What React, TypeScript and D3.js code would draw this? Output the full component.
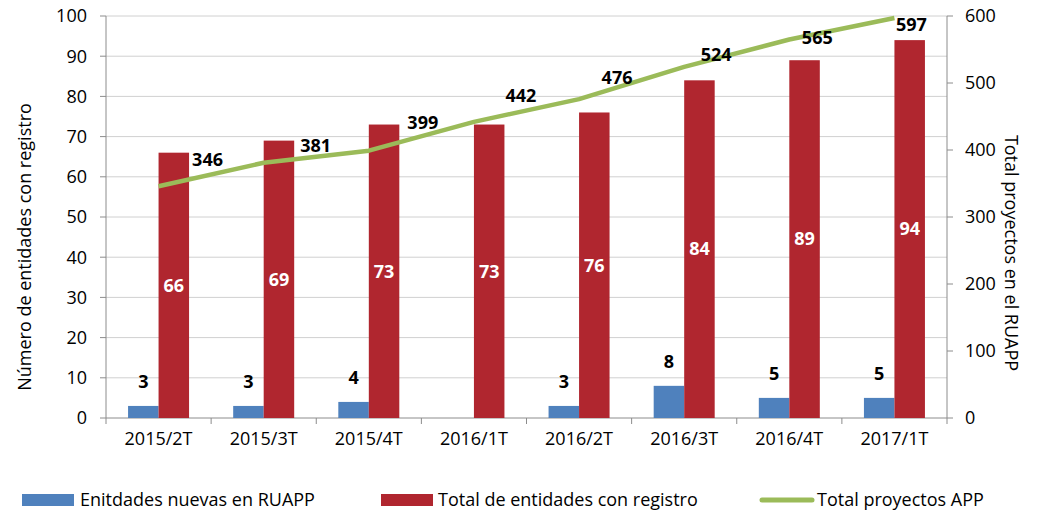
import React from "react";
import * as d3 from "d3";

// data
const periods = ["2015/2T", "2015/3T", "2015/4T", "2016/1T", "2016/2T", "2016/3T", "2016/4T", "2017/1T"];
const nuevas = [3, 3, 4, 0, 3, 8, 5, 5];
const totalEntidades = [66, 69, 73, 73, 76, 84, 89, 94];
const totalProyectos = [346, 381, 399, 442, 476, 524, 565, 597];
const leftTicks = [0, 10, 20, 30, 40, 50, 60, 70, 80, 90, 100];
const rightTicks = [0, 100, 200, 300, 400, 500, 600];

// manual nudges for the line's value labels (as placed in the original)
const lineLabelOffsets: [number, number][] = [
  [49, -26], [52, -17], [54, -28], [47, -26], [38, -21], [32, -12], [28, -2], [17, 7],
];

const W = 1039;
const H = 512;
const margin = { left: 106, right: 92, top: 16, bottom: 94 };
const FONT = "'Open Sans', sans-serif";
const FS = 18;
const BLUE = "#4F81BD";
const RED = "#B0262F";
const GREEN = "#9BBB59";

export default function App() {
  const x0 = margin.left;
  const x1 = W - margin.right;
  const yTop = margin.top;
  const yBot = H - margin.bottom;

  const x = d3.scaleBand<string>().domain(periods).range([x0, x1]);
  const yL = d3.scaleLinear().domain([0, 100]).range([yBot, yTop]);
  const yR = d3.scaleLinear().domain([0, 600]).range([yBot, yTop]);
  const barW = 30.5;

  const line = d3
    .line<number>()
    .x((_, i) => (x(periods[i]) as number) + x.bandwidth() / 2)
    .y((d) => yR(d));

  return (
    <svg width={W} height={H} style={{ position: "absolute", left: 0, top: 0, fontFamily: FONT }}>
      <rect width={W} height={H} fill="#fff" />
      {/* gridlines */}
      {leftTicks.slice(1).map((t) => (
        <line key={t} x1={x0} x2={x1} y1={yL(t)} y2={yL(t)} stroke="#D0D0D0" strokeWidth={1} />
      ))}
      {/* left axis */}
      <line x1={x0} x2={x0} y1={yTop} y2={yBot + 6} stroke="#8C8C8C" />
      {leftTicks.map((t) => (
        <g key={t}>
          <line x1={x0 - 6} x2={x0} y1={yL(t)} y2={yL(t)} stroke="#8C8C8C" />
          <text x={x0 - 19} y={yL(t)} dy="0.35em" textAnchor="end" fontSize={FS}>
            {t}
          </text>
        </g>
      ))}
      {/* right axis */}
      <line x1={x1} x2={x1} y1={yTop} y2={yBot} stroke="#8C8C8C" />
      {rightTicks.map((t) => (
        <g key={t}>
          <line x1={x1} x2={x1 + 6} y1={yR(t)} y2={yR(t)} stroke="#8C8C8C" />
          <text x={x1 + 18} y={yR(t)} dy="0.35em" textAnchor="start" fontSize={FS}>
            {t}
          </text>
        </g>
      ))}
      {/* x axis */}
      <line x1={x0} x2={x1} y1={yBot} y2={yBot} stroke="#8C8C8C" />
      {periods.map((p) => (
        <g key={p}>
          <line
            x1={(x(p) as number) + x.bandwidth()}
            x2={(x(p) as number) + x.bandwidth()}
            y1={yBot}
            y2={yBot + 6}
            stroke="#8C8C8C"
          />
          <text x={(x(p) as number) + x.bandwidth() / 2} y={yBot + 27} textAnchor="middle" fontSize={FS}>
            {p}
          </text>
        </g>
      ))}
      {/* bars */}
      {periods.map((p, i) => {
        const cx = (x(p) as number) + x.bandwidth() / 2;
        return (
          <g key={p}>
            {nuevas[i] > 0 && (
              <>
                <rect x={cx - barW} y={yL(nuevas[i])} width={barW} height={yBot - yL(nuevas[i])} fill={BLUE} />
                <text
                  x={cx - barW / 2}
                  y={yL(nuevas[i]) - 24}
                  dy="0.35em"
                  textAnchor="middle"
                  fontSize={FS}
                  fontWeight="bold"
                >
                  {nuevas[i]}
                </text>
              </>
            )}
            <rect x={cx} y={yL(totalEntidades[i])} width={barW} height={yBot - yL(totalEntidades[i])} fill={RED} />
            <text
              x={cx + barW / 2}
              y={(yL(totalEntidades[i]) + yBot) / 2}
              dy="0.35em"
              textAnchor="middle"
              fontSize={FS}
              fontWeight="bold"
              fill="#fff"
            >
              {totalEntidades[i]}
            </text>
          </g>
        );
      })}
      {/* line */}
      <path d={line(totalProyectos) as string} fill="none" stroke={GREEN} strokeWidth={4.5} strokeLinejoin="round" />
      {totalProyectos.map((v, i) => {
        const cx = (x(periods[i]) as number) + x.bandwidth() / 2;
        const [dx, dy] = lineLabelOffsets[i];
        return (
          <text
            key={i}
            x={cx + dx}
            y={yR(v) + dy}
            dy="0.35em"
            textAnchor="middle"
            fontSize={FS}
            fontWeight="bold"
          >
            {v}
          </text>
        );
      })}
      {/* axis titles */}
      <text transform="translate(31,247) rotate(-90)" textAnchor="middle" fontSize={FS}>
        Número de entidades con registro
      </text>
      <text transform="translate(1005,253) rotate(90)" textAnchor="middle" fontSize={FS}>
        Total proyectos en el RUAPP
      </text>
      {/* legend */}
      <rect x={22} y={494} width={52} height={12} fill={BLUE} />
      <text x={80} y={500} dy="0.35em" fontSize={FS}>
        Enitdades nuevas en RUAPP
      </text>
      <rect x={381} y={494} width={52} height={12} fill={RED} />
      <text x={438} y={500} dy="0.35em" fontSize={FS}>
        Total de entidades con registro
      </text>
      <line x1={762} x2={812} y1={500} y2={500} stroke={GREEN} strokeWidth={5} strokeLinecap="round" />
      <text x={817} y={500} dy="0.35em" fontSize={FS}>
        Total proyectos APP
      </text>
    </svg>
  );
}
